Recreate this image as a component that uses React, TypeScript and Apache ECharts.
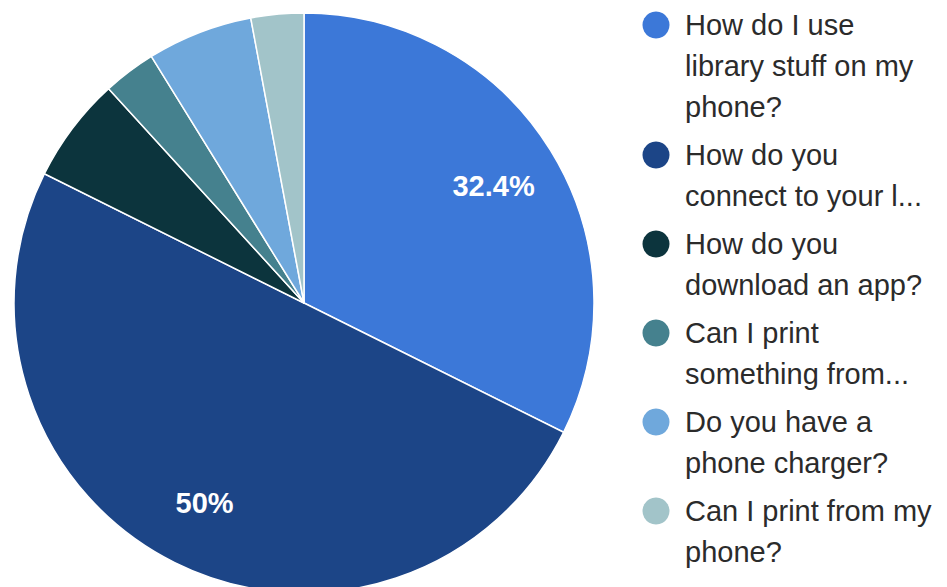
import React, { useEffect, useRef } from "react";
import * as echarts from "echarts";

// Legend text, as wrapped in the reference (one array per category)
const legendLines: string[][] = [
  ["How do I use", "library stuff on my", "phone?"],
  ["How do you", "connect to your l..."],
  ["How do you", "download an app?"],
  ["Can I print", "something from..."],
  ["Do you have a", "phone charger?"],
  ["Can I print from my", "phone?"],
];
const categories: string[] = legendLines.map((l) => l.join(" "));
const responses: number[] = [11, 17, 2, 1, 2, 1];
const colors: string[] = ["#3c78d8", "#1c4587", "#0c343d", "#45818e", "#6fa8dc", "#a2c4c9"];

const FONT = "Arial, 'Liberation Sans', sans-serif";

export default function App() {
  const ref = useRef<HTMLDivElement>(null);
  useEffect(() => {
    document.body.style.margin = "0";
    if (!ref.current) return;
    const chart = echarts.init(ref.current, undefined, { renderer: "svg" });

    const data = categories.map((name, i) => ({
      name,
      value: responses[i],
      itemStyle: { color: colors[i] },
    }));

    // Legend built from the category arrays
    const lineH = 41;
    const gap = 7;
    const legendEls: any[] = [];
    let y = 25;
    legendLines.forEach((lines, i) => {
      legendEls.push({
        type: "circle",
        shape: { cx: 656, cy: y, r: 13.5 },
        style: { fill: colors[i] },
        silent: true,
      });
      legendEls.push({
        type: "text",
        x: 685,
        y: y - lineH / 2,
        style: {
          text: lines.join("\n"),
          fill: "#2b2b2b",
          font: `29px ${FONT}`,
          lineHeight: lineH,
          verticalAlign: "top",
          align: "left",
        },
        silent: true,
      });
      y += lines.length * lineH + gap;
    });

    chart.setOption({
      animation: false,
      backgroundColor: "#ffffff",
      graphic: legendEls,
      series: [
        {
          type: "pie",
          center: [304, 303],
          radius: [0, 290],
          startAngle: 90,
          clockwise: true,
          silent: true,
          label: { show: false },
          labelLine: { show: false },
          itemStyle: { borderColor: "#ffffff", borderWidth: 1.5 },
          data,
        },
        {
          type: "pie",
          center: [304, 303],
          radius: [150, 290],
          startAngle: 90,
          clockwise: true,
          silent: true,
          percentPrecision: 1,
          itemStyle: { color: "rgba(0,0,0,0)", borderWidth: 0 },
          labelLine: { show: false },
          label: {
            show: true,
            position: "inside",
            color: "#ffffff",
            fontFamily: FONT,
            fontSize: 29,
            fontWeight: "bold",
            formatter: (p: any) => (p.percent >= 10 ? `${Number(p.percent.toFixed(1))}%` : ""),
          },
          data: categories.map((name, i) => ({ name, value: responses[i] })),
        },
      ],
    });
    return () => chart.dispose();
  }, []);
  return <div ref={ref} style={{ width: 947, height: 587 }} />;
}
